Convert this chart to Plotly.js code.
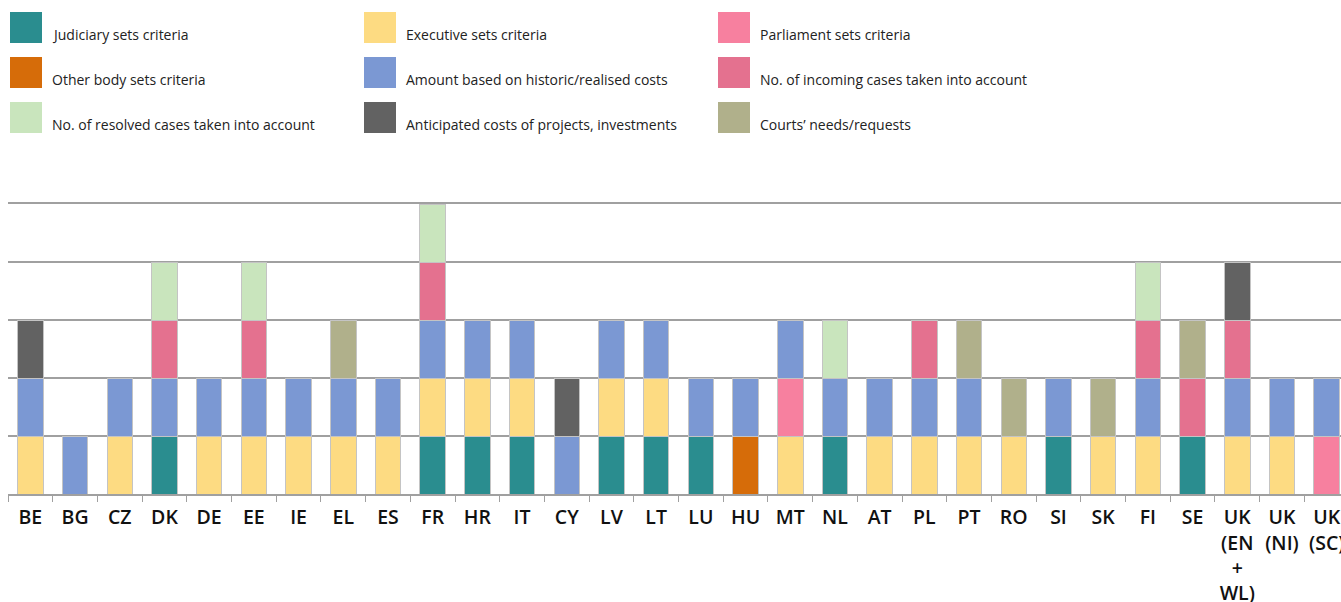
<!DOCTYPE html>
<html>
<head>
<meta charset="utf-8">
<script src="https://cdn.plot.ly/plotly-3.0.1.min.js"></script>
<style>html,body{margin:0;padding:0;background:#fff}#chart{width:1341px;height:602px}</style>
</head>
<body>
<div id="chart"></div>
<script>
const categories = ["BE","BG","CZ","DK","DE","EE","IE","EL","ES","FR","HR","IT","CY","LV","LT","LU","HU","MT","NL","AT","PL","PT","RO","SI","SK","FI","SE","UK<br>(EN<br>+<br>WL)","UK<br>(NI)","UK<br>(SC)"];

const seriesNames = ["Judiciary sets criteria","Executive sets criteria","Parliament sets criteria","Other body sets criteria","Amount based on historic/realised costs","No. of incoming cases taken into account","No. of resolved cases taken into account","Anticipated costs of projects, investments","Courts’ needs/requests"];
const seriesColors = ["#2a8d8f","#fddb82","#f7809f","#d66c09","#7b98d3","#e4718f","#c9e5bd","#626262","#b0b08b"];

//                 BE BG CZ DK DE EE IE EL ES FR HR IT CY LV LT LU HU MT NL AT PL PT RO SI SK FI SE UK1 UK2 UK3
const judiciary  = [0, 0, 0, 1, 0, 0, 0, 0, 0, 1, 1, 1, 0, 1, 1, 1, 0, 0, 1, 0, 0, 0, 0, 1, 0, 0, 1, 0, 0, 0];
const executive  = [1, 0, 1, 0, 1, 1, 1, 1, 1, 1, 1, 1, 0, 1, 1, 0, 0, 1, 0, 1, 1, 1, 1, 0, 1, 1, 0, 1, 1, 0];
const parliament = [0, 0, 0, 0, 0, 0, 0, 0, 0, 0, 0, 0, 0, 0, 0, 0, 0, 1, 0, 0, 0, 0, 0, 0, 0, 0, 0, 0, 0, 1];
const otherBody  = [0, 0, 0, 0, 0, 0, 0, 0, 0, 0, 0, 0, 0, 0, 0, 0, 1, 0, 0, 0, 0, 0, 0, 0, 0, 0, 0, 0, 0, 0];
const historic   = [1, 1, 1, 1, 1, 1, 1, 1, 1, 1, 1, 1, 1, 1, 1, 1, 1, 1, 1, 1, 1, 1, 0, 1, 0, 1, 0, 1, 1, 1];
const incoming   = [0, 0, 0, 1, 0, 1, 0, 0, 0, 1, 0, 0, 0, 0, 0, 0, 0, 0, 0, 0, 1, 0, 0, 0, 0, 1, 1, 1, 0, 0];
const resolved   = [0, 0, 0, 1, 0, 1, 0, 0, 0, 1, 0, 0, 0, 0, 0, 0, 0, 0, 1, 0, 0, 0, 0, 0, 0, 1, 0, 0, 0, 0];
const anticipated= [1, 0, 0, 0, 0, 0, 0, 0, 0, 0, 0, 0, 1, 0, 0, 0, 0, 0, 0, 0, 0, 0, 0, 0, 0, 0, 0, 1, 0, 0];
const courtsNeeds= [0, 0, 0, 0, 0, 0, 0, 1, 0, 0, 0, 0, 0, 0, 0, 0, 0, 0, 0, 0, 0, 1, 1, 0, 1, 0, 1, 0, 0, 0];

const seriesValues = [judiciary, executive, parliament, otherBody, historic, incoming, resolved, anticipated, courtsNeeds];

const traces = seriesValues.map((vals, i) => ({
  type: "bar",
  name: seriesNames[i],
  x: categories,
  y: vals.map(v => v ? v : null),
  marker: {color: seriesColors[i], line: {color: "#c4c4c4", width: 1}},
  showlegend: false,
  hoverinfo: "x+name"
}));

const shapes = [], annotations = [];
seriesNames.forEach((n, i) => {
  const col = i % 3, row = Math.floor(i / 3);
  shapes.push({
    type: "rect", xref: "paper", yref: "paper",
    xsizemode: "pixel", ysizemode: "pixel", xanchor: 0, yanchor: 1,
    x0: 2 + col * 354, x1: 34 + col * 354,
    y0: 161 - 45 * row, y1: 192 - 45 * row,
    fillcolor: seriesColors[i], line: {width: 0}
  });
  annotations.push({
    xref: "paper", yref: "paper", x: 0, y: 1,
    xanchor: "left", yanchor: "middle",
    xshift: 42 + col * 354, yshift: 170 - 45 * row,
    text: n, showarrow: false,
    font: {family: "Open Sans", size: 14, color: "#222"}
  });
});

const layout = {
  width: 1341, height: 602,
  margin: {l: 8, r: 0, t: 204, b: 108},
  paper_bgcolor: "#ffffff", plot_bgcolor: "#ffffff",
  barmode: "stack", bargap: 0.43,
  showlegend: false,
  xaxis: {
    type: "category", range: [-0.5, 29.32],
    showline: true, mirror: true, linecolor: "#a0a0a0", linewidth: 2,
    ticks: "outside", tickson: "boundaries", ticklen: 6, tickcolor: "#a0a0a0", tickwidth: 1,
    ticklabelstandoff: 5,
    showgrid: false,
    tickfont: {family: "Open Sans", size: 19.5, color: "#111", weight: 600},
    fixedrange: true
  },
  yaxis: {
    range: [0, 5], dtick: 1, showticklabels: false,
    showgrid: true, gridcolor: "#a0a0a0", gridwidth: 2,
    zeroline: false, fixedrange: true
  },
  shapes: shapes, annotations: annotations,
  font: {family: "Open Sans"}
};

Plotly.newPlot("chart", traces, layout, {displayModeBar: false, staticPlot: true});
</script>
</body>
</html>
